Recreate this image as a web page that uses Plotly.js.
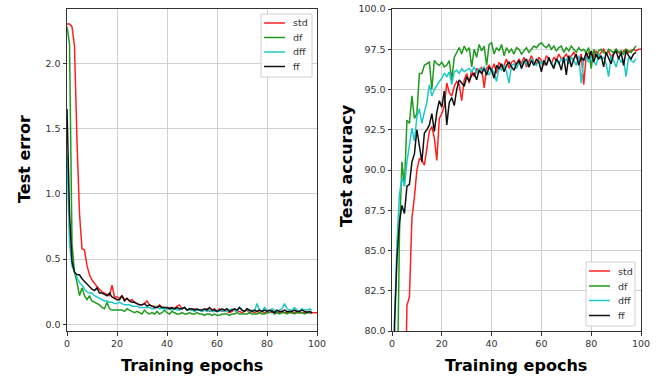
<!DOCTYPE html>
<html>
<head>
<meta charset="utf-8">
<script src="https://cdn.plot.ly/plotly-3.0.1.min.js"></script>
<style>html,body{margin:0;padding:0;background:#fff;}#chart{width:659px;height:379px;}</style>
</head>
<body>
<div id="chart"></div>
<script>
// Series names
const seriesNames = ["std", "df", "dff", "ff"];

// Left panel: test error per training epoch (index = epoch)
const stdErr = [2.30,2.30,2.28,2.13,1.40,0.85,0.58,0.57,0.45,0.38,
0.34,0.31,0.29,0.27,0.25,0.24,0.23,0.22,0.30,0.21,
0.21,0.20,0.22,0.19,0.20,0.18,0.19,0.17,0.16,0.15,
0.15,0.16,0.18,0.15,0.14,0.14,0.13,0.15,0.13,0.13,
0.12,0.13,0.12,0.12,0.14,0.15,0.12,0.13,0.11,0.12,
0.11,0.12,0.11,0.11,0.10,0.11,0.12,0.10,0.11,0.12,
0.10,0.12,0.10,0.11,0.10,0.09,0.10,0.11,0.10,0.10,
0.09,0.10,0.11,0.09,0.10,0.09,0.10,0.09,0.10,0.09,
0.09,0.10,0.09,0.10,0.09,0.09,0.10,0.09,0.09,0.10,
0.09,0.09,0.10,0.09,0.09,0.09,0.10,0.09,0.09,0.09,0.09];
const dfErr = [2.28,2.15,0.62,0.40,0.32,0.22,0.28,0.22,0.19,0.22,
0.18,0.17,0.16,0.15,0.13,0.12,0.17,0.12,0.11,0.11,
0.11,0.11,0.11,0.10,0.12,0.11,0.10,0.09,0.10,0.09,
0.08,0.11,0.09,0.08,0.09,0.08,0.10,0.08,0.09,0.11,
0.09,0.08,0.10,0.09,0.08,0.08,0.09,0.08,0.08,0.09,
0.08,0.08,0.09,0.08,0.08,0.07,0.08,0.08,0.07,0.08,
0.07,0.07,0.08,0.08,0.08,0.07,0.08,0.08,0.09,0.08,
0.08,0.08,0.08,0.09,0.08,0.08,0.08,0.09,0.08,0.08,
0.09,0.09,0.11,0.08,0.09,0.08,0.09,0.09,0.08,0.09,
0.09,0.08,0.09,0.09,0.09,0.08,0.09,0.09,0.09];
const dffErr = [1.30,0.62,0.45,0.40,0.36,0.32,0.30,0.27,0.25,0.24,
0.24,0.22,0.21,0.20,0.19,0.18,0.18,0.17,0.17,0.16,
0.16,0.17,0.16,0.15,0.15,0.15,0.14,0.14,0.14,0.13,
0.13,0.13,0.13,0.13,0.12,0.12,0.14,0.12,0.12,0.12,
0.12,0.12,0.11,0.12,0.11,0.11,0.12,0.13,0.11,0.11,
0.11,0.10,0.11,0.11,0.10,0.11,0.10,0.11,0.10,0.10,
0.11,0.10,0.11,0.10,0.10,0.11,0.12,0.11,0.10,0.13,
0.11,0.10,0.12,0.10,0.11,0.10,0.16,0.11,0.10,0.13,
0.11,0.10,0.12,0.11,0.10,0.11,0.12,0.16,0.12,0.11,
0.11,0.13,0.11,0.10,0.12,0.11,0.11,0.12,0.11];
const ffErr = [1.65,0.85,0.48,0.40,0.38,0.38,0.35,0.33,0.31,0.29,
0.27,0.26,0.28,0.24,0.24,0.23,0.22,0.24,0.21,0.20,
0.19,0.19,0.22,0.18,0.20,0.18,0.17,0.17,0.16,0.15,
0.15,0.16,0.14,0.15,0.14,0.13,0.13,0.14,0.13,0.13,
0.13,0.12,0.13,0.12,0.13,0.12,0.12,0.13,0.11,0.12,
0.12,0.11,0.12,0.11,0.11,0.12,0.11,0.13,0.11,0.11,
0.10,0.11,0.12,0.11,0.12,0.10,0.11,0.12,0.11,0.13,
0.11,0.10,0.12,0.11,0.10,0.11,0.10,0.11,0.10,0.11,
0.10,0.11,0.10,0.09,0.11,0.10,0.10,0.11,0.10,0.10,
0.10,0.11,0.10,0.10,0.11,0.10,0.09,0.10,0.09];

// Right panel: test accuracy (%) per training epoch
const stdAcc = [11.35,11.35,11.35,25.0,50.0,72.0,81.6,82.1,87.0,88.3,
90.0,90.7,90.6,90.3,91.5,92.4,92.7,92.0,90.6,93.2,
93.5,94.0,95.4,94.8,94.6,95.2,95.5,95.3,94.3,95.6,
96.0,95.4,96.2,95.8,96.3,96.1,96.4,95.1,96.3,96.5,
96.2,96.6,96.0,96.7,96.4,96.5,96.9,96.3,96.7,96.8,
96.5,96.9,96.6,97.0,96.4,96.8,97.1,96.7,96.6,97.0,
96.8,96.5,97.1,96.9,96.6,97.0,96.8,97.2,96.9,97.0,
97.2,96.9,97.1,97.3,97.0,96.8,97.2,95.3,97.1,97.3,
97.2,97.0,97.4,97.1,97.3,97.5,97.2,97.4,97.0,97.3,
97.5,97.3,97.2,97.4,97.5,97.3,97.4,97.5,97.4,97.5,97.5];
const dfAcc = [20.0,50.0,75.0,86.0,90.5,89.0,93.1,92.9,94.6,93.2,
93.5,96.0,96.0,96.5,96.6,96.7,95.0,96.8,96.6,96.5,
96.7,96.4,96.5,96.8,95.6,97.0,97.3,97.6,97.2,97.7,
97.4,97.6,96.4,97.5,97.0,97.8,97.4,97.7,96.5,97.8,
97.9,97.2,97.6,97.4,97.8,97.1,97.6,97.3,97.5,97.2,
97.6,97.5,97.2,97.4,97.6,97.3,97.5,97.7,97.6,97.8,
97.9,97.7,97.6,97.8,97.5,97.7,97.4,97.6,97.7,97.3,
97.6,97.4,97.7,97.5,97.3,97.6,97.4,97.5,97.3,97.6,
96.3,97.5,97.0,97.4,97.5,97.3,97.2,97.5,97.4,97.3,
97.5,97.3,97.4,97.2,97.5,97.4,97.3,97.5,97.7];
const dffAcc = [40.0,80.5,85.5,88.5,89.5,89.0,90.5,91.5,92.6,91.8,
93.3,93.8,92.9,93.6,94.2,95.3,94.6,95.0,95.3,95.5,
95.7,96.0,95.8,96.1,95.3,96.1,96.2,96.0,96.3,96.1,
96.2,96.3,96.1,96.4,96.0,96.3,96.2,96.4,96.1,95.9,
96.3,96.0,95.5,96.4,96.2,96.5,96.1,95.4,96.5,96.6,
96.3,96.7,96.5,96.8,96.6,96.4,96.9,96.7,96.5,96.8,
96.6,96.8,96.5,96.9,96.7,96.4,96.8,96.6,96.9,96.7,
96.9,96.6,97.0,96.8,96.5,97.1,95.4,96.9,97.0,96.7,
97.1,96.8,96.5,97.2,96.9,97.0,96.6,95.8,97.1,96.8,
96.4,97.0,96.7,96.9,95.8,97.0,96.8,96.7,96.9];
const ffAcc = [45.0,80.3,84.5,86.8,87.8,87.3,89.0,89.1,90.5,91.0,
92.5,91.5,90.5,92.3,92.5,92.8,93.5,92.4,93.6,94.3,
93.9,94.9,92.8,94.2,94.5,94.0,95.0,95.6,95.4,95.2,
95.8,95.5,95.9,96.0,95.6,96.2,96.0,96.3,95.9,96.4,
96.2,95.7,96.5,96.3,96.6,96.1,96.5,96.7,96.4,96.2,
96.6,96.8,96.3,96.7,96.9,96.4,96.8,96.5,96.9,96.7,
96.1,96.8,96.5,97.0,96.6,96.3,96.9,96.7,96.2,97.0,
95.9,97.1,96.4,96.9,97.2,96.5,97.0,96.8,97.3,96.9,
97.4,96.7,97.2,96.9,97.1,96.4,97.3,97.0,96.6,97.2,
97.4,96.9,97.3,96.5,97.4,97.1,96.9,97.2,97.3];

const xTicks = [0, 20, 40, 60, 80, 100];
const errTicks = [0.0, 0.5, 1.0, 1.5, 2.0];
const accTicks = [80.0, 82.5, 85.0, 87.5, 90.0, 92.5, 95.0, 97.5, 100.0];

const colors = ["#ff2020", "#1f9a1f", "#1fc8c8", "#111111"];
const errSeries = [stdErr, dfErr, dffErr, ffErr];
const accSeries = [stdAcc, dfAcc, dffAcc, ffAcc];

const traces = [];
errSeries.forEach((ys, i) => {
  traces.push({type: "scatter", mode: "lines", y: ys, name: seriesNames[i],
    xaxis: "x", yaxis: "y", showlegend: false,
    line: {color: colors[i], width: 1.5}});
});
accSeries.forEach((ys, i) => {
  traces.push({type: "scatter", mode: "lines", y: ys, name: seriesNames[i],
    xaxis: "x2", yaxis: "y2", showlegend: false,
    line: {color: colors[i], width: 1.5}});
});

const W = 659, H = 379;
const px = v => v / W;          // pixel x -> paper
const py = v => 1 - v / H;      // pixel y -> paper
const tickFont = {family: "DejaVu Sans", size: 9.5, color: "#333"};
const axBase = {
  showline: true, mirror: true, linecolor: "#333", linewidth: 1,
  showgrid: true, gridcolor: "#cfcfcf", gridwidth: 1,
  ticks: "outside", ticklen: 3.5, tickcolor: "#333", tickwidth: 1,
  zeroline: false, tickfont: tickFont, fixedrange: true
};
const yDom = [py(331), py(9)];

const titleFont = {family: "DejaVu Sans", size: 16, color: "#000", weight: "bold"};
const annotations = [
  {text: "Test error", xref: "paper", yref: "paper", x: px(24), y: py(159), textangle: -90,
    showarrow: false, font: titleFont, xanchor: "center", yanchor: "middle"},
  {text: "Training epochs", xref: "paper", yref: "paper", x: px(192), y: py(365),
    showarrow: false, font: titleFont, xanchor: "center", yanchor: "middle"},
  {text: "Test accuracy", xref: "paper", yref: "paper", x: px(347), y: py(166), textangle: -90,
    showarrow: false, font: titleFont, xanchor: "center", yanchor: "middle"},
  {text: "Training epochs", xref: "paper", yref: "paper", x: px(516), y: py(365),
    showarrow: false, font: titleFont, xanchor: "center", yanchor: "middle"}
];
const shapes = [];

// Legend boxes drawn like matplotlib's (frame, line samples, labels)
function addLegend(box, rows, lineX0, lineX1, textX) {
  shapes.push({type: "rect", xref: "paper", yref: "paper",
    x0: px(box[0]), x1: px(box[1]), y0: py(box[3]), y1: py(box[2]),
    fillcolor: "rgba(255,255,255,0.85)", line: {color: "#d0d0d0", width: 1}, layer: "above"});
  seriesNames.forEach((name, i) => {
    shapes.push({type: "line", xref: "paper", yref: "paper",
      x0: px(lineX0), x1: px(lineX1), y0: py(rows[i]), y1: py(rows[i]),
      line: {color: colors[i], width: 1.5}, layer: "above"});
    annotations.push({text: name, xref: "paper", yref: "paper", x: px(textX), y: py(rows[i]),
      xanchor: "left", yanchor: "middle", showarrow: false,
      font: {family: "DejaVu Sans", size: 9.5, color: "#333"}});
  });
}
addLegend([261, 312, 14, 77], [23, 37.5, 52, 66.5], 264, 285, 291);
addLegend([586, 635, 262, 326], [271, 286, 300.5, 315.5], 589, 610, 616);

const layout = {
  width: W, height: H,
  margin: {l: 0, r: 0, t: 0, b: 0},
  paper_bgcolor: "#fff", plot_bgcolor: "#fff",
  showlegend: false,
  xaxis: Object.assign({}, axBase, {domain: [px(67), px(317)], range: [0, 100], tickvals: xTicks, anchor: "y"}),
  yaxis: Object.assign({}, axBase, {domain: yDom, range: [-0.05, 2.415], tickvals: errTicks, tickformat: ".1f", anchor: "x"}),
  xaxis2: Object.assign({}, axBase, {domain: [px(392), px(641)], range: [0, 100], tickvals: xTicks, anchor: "y2"}),
  yaxis2: Object.assign({}, axBase, {domain: yDom, range: [80, 100], tickvals: accTicks, tickformat: ".1f", anchor: "x2"}),
  annotations: annotations,
  shapes: shapes
};

Plotly.newPlot("chart", traces, layout, {staticPlot: true, displayModeBar: false});
</script>
</body>
</html>
